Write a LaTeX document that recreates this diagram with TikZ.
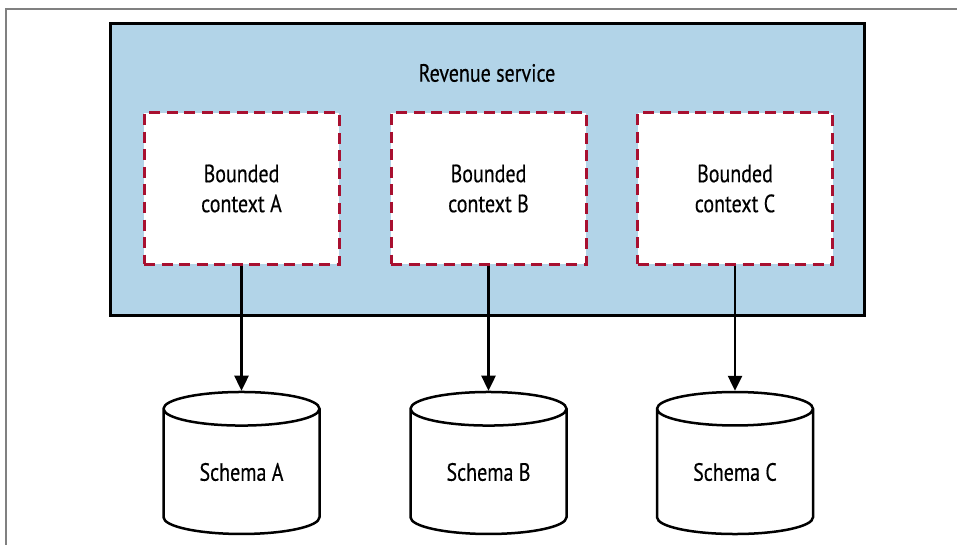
\documentclass[tikz,border=0pt]{standalone}
\usepackage{fontspec}
\setmainfont[FakeStretch=0.8, FakeBold=0.4]{PT Sans}
\usetikzlibrary{shapes.geometric,arrows.meta}
\definecolor{svcblue}{RGB}{178,212,232}
\definecolor{ctxred}{RGB}{168,16,48}
\tikzset{
    lbl/.style={font=\fontsize{25}{30}\selectfont},
    ctxbox/.style={lbl, draw=ctxred, fill=white, line width=3pt, dash pattern=on 11pt off 6.5pt,
        minimum width=195pt, minimum height=151pt, inner sep=0pt, align=center},
    dbcyl/.style={lbl, draw, line width=2.5pt, fill=white, shape=cylinder, shape border rotate=90,
        aspect=0.4, minimum width=156pt, minimum height=142pt, inner sep=0pt},
    flow/.style={line width=2.5pt, -{Triangle[length=15pt, width=14pt]}}
}
\begin{document}
\begin{tikzpicture}[x=1pt, y=-1pt]
        \useasboundingbox (0,0) rectangle (957,545);
        \fill[white] (0,0) rectangle (957,545);
        % frame
        \draw[gray, line width=2pt] (957,9) -- (6,9) -- (6,545);
        % service
        \node[draw, fill=svcblue, line width=3pt, minimum width=754pt, minimum height=291pt,
            inner sep=0pt] (svc) at (487,169.5) {};
        \node[lbl] (svclbl) at (487,73) {Revenue service};
        % contexts and schemas
        \foreach \x/\l in {241.5/A, 488.5/B, 735/C} {
            \node[ctxbox] (ctx\l) at (\x,188.5) {Bounded\\context \l};
            \node[dbcyl] (sch\l) at (\x,472) {Schema \l};
            \draw[flow] (ctx\l) -- (sch\l);
        }
    \end{tikzpicture}
\end{document}
